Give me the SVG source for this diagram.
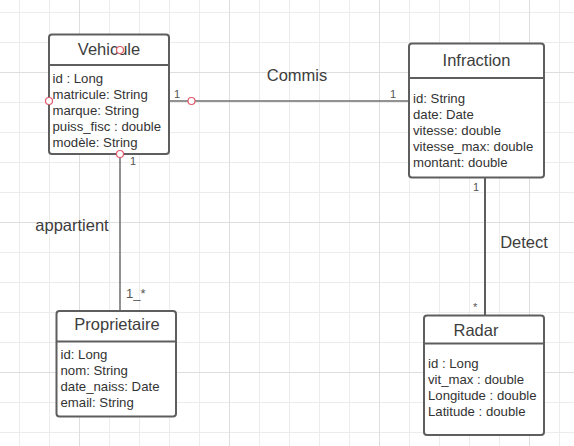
<svg xmlns="http://www.w3.org/2000/svg" width="574" height="446" viewBox="0 0 574 446">
<style>
.box{fill:#fff;stroke:#5e5e5e;stroke-width:2}
.div{stroke:#5e5e5e;stroke-width:2}
.title{font-family:"Liberation Sans",Arial,sans-serif;font-size:16.5px;fill:#3d3d3d;text-anchor:middle}
.attr{font-family:"Liberation Sans",Arial,sans-serif;font-size:13.2px;fill:#333}
.lbl{font-family:"Liberation Sans",Arial,sans-serif;font-size:16.5px;fill:#3d3d3d;text-anchor:middle}
.mult{font-family:"Liberation Sans",Arial,sans-serif;font-size:11px;fill:#555}
.pt{fill:#fff;stroke:#e05a6b;stroke-width:1.2}
</style>
<defs>
<pattern id="minor" patternUnits="userSpaceOnUse" x="19" y="12" width="30" height="30">
<path d="M0.5 0V30M0 0.5H30" stroke="#ececec" stroke-width="1" fill="none"/>
</pattern>
<pattern id="major" patternUnits="userSpaceOnUse" x="79" y="72" width="150" height="150">
<path d="M0.5 0V150M0 0.5H150" stroke="#dedede" stroke-width="1" fill="none"/>
</pattern>
</defs>
<rect width="574" height="446" fill="#fff"/>
<rect width="574" height="446" fill="url(#minor)"/>
<rect width="574" height="446" fill="url(#major)"/>
<g id="connectors" fill="none">
<path d="M169 101H409" stroke="#6e6e6e" stroke-width="1.5"/>
<path d="M120 154V311" stroke="#6e6e6e" stroke-width="1.5"/>
<path d="M485 177V315" stroke="#5e5e5e" stroke-width="2"/>
<text class="lbl" x="297" y="81">Commis</text>
<text class="lbl" x="72" y="231">appartient</text>
<text class="lbl" x="524" y="248">Detect</text>
<text class="mult" x="174" y="98">1</text>
<text class="mult" x="390" y="98">1</text>
<text class="mult" x="130" y="165">1</text>
<text class="mult" x="126" y="298" style="font-size:13px">1_*</text>
<text class="mult" x="473" y="191">1</text>
<text class="mult" x="473" y="311">*</text>
</g>
<g id="vehicule">
<rect class="box" x="49" y="34.5" width="120" height="119.5" rx="3"/>
<path class="div" d="M49 65H169"/>
<text class="title" x="109" y="55">Vehicule</text>
<text class="attr" x="52.5" y="83">id : Long</text>
<text class="attr" x="52.5" y="99">matricule: String</text>
<text class="attr" x="52.5" y="115">marque: String</text>
<text class="attr" x="52.5" y="131">puiss_fisc : double</text>
<text class="attr" x="52.5" y="147">modèle: String</text>
</g>
<g id="infraction">
<rect class="box" x="409" y="43.5" width="135" height="134" rx="3"/>
<path class="div" d="M409 78H544"/>
<text class="title" x="476.5" y="66">Infraction</text>
<text class="attr" x="413" y="103">id: String</text>
<text class="attr" x="413" y="119">date: Date</text>
<text class="attr" x="413" y="135">vitesse: double</text>
<text class="attr" x="413" y="151">vitesse_max: double</text>
<text class="attr" x="413" y="167">montant: double</text>
</g>
<g id="proprietaire">
<rect class="box" x="56.5" y="311" width="119.5" height="105.5" rx="3"/>
<path class="div" d="M56.5 341.5H176"/>
<text class="title" x="117" y="330">Proprietaire</text>
<text class="attr" x="60.5" y="358.5">id: Long</text>
<text class="attr" x="60.5" y="374.5">nom: String</text>
<text class="attr" x="60.5" y="390.5">date_naiss: Date</text>
<text class="attr" x="60.5" y="406.5">email: String</text>
</g>
<g id="radar">
<rect class="box" x="424" y="315.5" width="120" height="119.5" rx="3"/>
<path class="div" d="M424 343.5H544"/>
<text class="title" x="476" y="336">Radar</text>
<text class="attr" x="428" y="368">id : Long</text>
<text class="attr" x="428" y="384">vit_max : double</text>
<text class="attr" x="428" y="400">Longitude : double</text>
<text class="attr" x="428" y="416">Latitude : double</text>
</g>
<g id="points">
<circle class="pt" cx="120" cy="50" r="3.5"/>
<circle class="pt" cx="49" cy="101" r="3.5"/>
<circle class="pt" cx="191.5" cy="101" r="3.5"/>
<circle class="pt" cx="120" cy="154" r="3.5"/>
</g>
</svg>
